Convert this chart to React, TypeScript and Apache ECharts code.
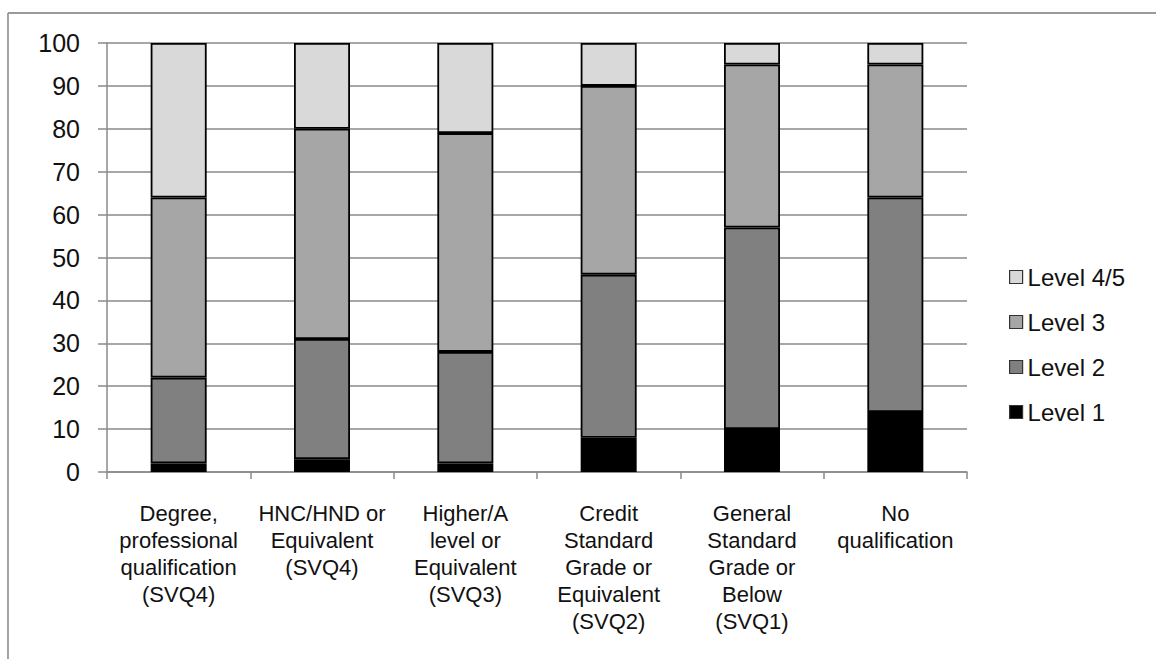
import React, { useEffect, useRef } from "react";
import * as echarts from "echarts";

const categories = [
  "Degree,\nprofessional\nqualification\n(SVQ4)",
  "HNC/HND or\nEquivalent\n(SVQ4)",
  "Higher/A\nlevel or\nEquivalent\n(SVQ3)",
  "Credit\nStandard\nGrade or\nEquivalent\n(SVQ2)",
  "General\nStandard\nGrade or\nBelow\n(SVQ1)",
  "No\nqualification",
];
const level1 = [2, 3, 2, 8, 10, 14];
const level2 = [20, 28, 26, 38, 47, 50];
const level3 = [42, 49, 51, 44, 38, 31];
const level45 = [36, 20, 21, 10, 5, 5];
const legendOrder = ["Level 4/5", "Level 3", "Level 2", "Level 1"];
const yTicks = { min: 0, max: 100, interval: 10 };

const FONT = "'Liberation Sans', Arial, sans-serif";
const GRID_COLOR = "#8a8a8a";

export default function App() {
  const ref = useRef<HTMLDivElement>(null);
  useEffect(() => {
    if (!ref.current) return;
    const chart = echarts.init(ref.current, undefined, { renderer: "svg" });
    const mk = (name: string, data: number[], color: string) => ({
      name,
      type: "bar" as const,
      stack: "total",
      data,
      barWidth: 56,
      itemStyle: { color, borderColor: "#000", borderWidth: 1.8 },
      emphasis: { disabled: true },
    });
    chart.setOption({
      animation: false,
      backgroundColor: "#fff",
      textStyle: { fontFamily: FONT },
      grid: { left: 107, right: 189, top: 43, bottom: 187 },
      legend: {
        data: legendOrder,
        orient: "vertical",
        left: 1009,
        top: 265,
        padding: 0,
        icon: "rect",
        itemWidth: 13,
        itemHeight: 13,
        itemGap: 21,
        itemStyle: { borderColor: "#333", borderWidth: 1.2 },
        textStyle: { fontFamily: FONT, fontSize: 24, lineHeight: 24, color: "#111" },
      },
      xAxis: {
        type: "category",
        data: categories,
        axisLine: { lineStyle: { color: GRID_COLOR, width: 1.5 } },
        axisTick: { show: true, length: 7, lineStyle: { color: GRID_COLOR, width: 1.5 } },
        axisLabel: {
          interval: 0,
          margin: 28,
          fontFamily: FONT,
          fontSize: 22,
          lineHeight: 27,
          color: "#111",
          align: "center",
        },
      },
      yAxis: {
        type: "value",
        min: yTicks.min,
        max: yTicks.max,
        interval: yTicks.interval,
        axisLine: { show: true, lineStyle: { color: GRID_COLOR, width: 1.5 } },
        axisTick: { show: true, length: 9, lineStyle: { color: GRID_COLOR, width: 1.5 } },
        axisLabel: { margin: 27, fontFamily: FONT, fontSize: 25, color: "#111" },
        splitLine: { lineStyle: { color: GRID_COLOR, width: 1.5 } },
      },
      graphic: [
        {
          type: "line",
          shape: { x1: 8, y1: 13, x2: 1156, y2: 13 },
          style: { stroke: "#9a9a9a", lineWidth: 1.8 },
        },
        {
          type: "line",
          shape: { x1: 8, y1: 13, x2: 8, y2: 659 },
          style: { stroke: "#9a9a9a", lineWidth: 1.8 },
        },
      ],
      series: [
        mk("Level 1", level1, "#000000"),
        mk("Level 2", level2, "#808080"),
        mk("Level 3", level3, "#a6a6a6"),
        mk("Level 4/5", level45, "#d9d9d9"),
      ],
    });
    return () => chart.dispose();
  }, []);
  return (
    <div
      ref={ref}
      style={{ position: "fixed", left: 0, top: 0, width: 1156, height: 659 }}
    />
  );
}
